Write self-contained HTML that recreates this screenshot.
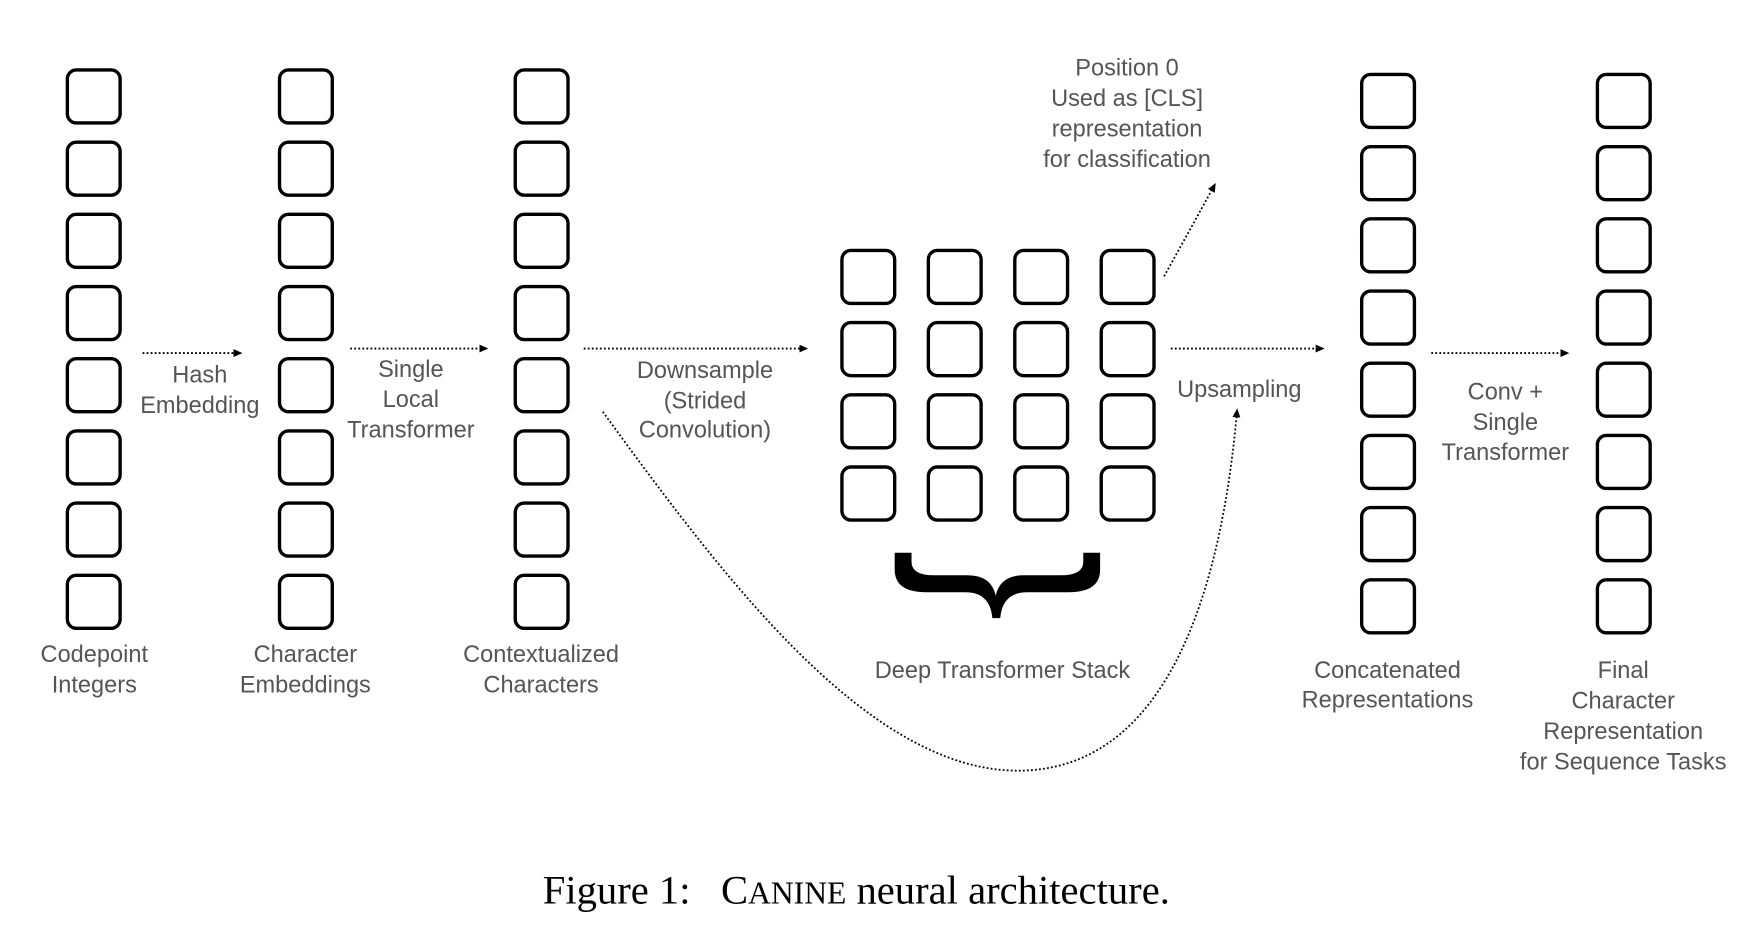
<!DOCTYPE html>
<html><head><meta charset="utf-8"><style>
html,body{margin:0;padding:0;background:#fff;width:1760px;height:934px;overflow:hidden}
svg{display:block}
.b{fill:none;stroke:#000;stroke-width:3}
.t{font-family:"Liberation Sans",sans-serif;font-size:21px;fill:#555;text-anchor:middle}
.d{fill:none;stroke:#000;stroke-width:1.6;stroke-dasharray:1.6 2}
</style></head><body>
<svg width="1760" height="934" viewBox="0 0 1560 828" preserveAspectRatio="none" xmlns="http://www.w3.org/2000/svg">
<defs>
<marker id="a" markerWidth="8" markerHeight="8" refX="6" refY="3.5" orient="auto" markerUnits="userSpaceOnUse"><path d="M0,0 L8,3.5 L0,7 z" fill="#000"/></marker>
<g id="col"><rect class="b" x="0" y="0" width="47" height="47" rx="8"/><rect class="b" x="0" y="64" width="47" height="47" rx="8"/><rect class="b" x="0" y="128" width="47" height="47" rx="8"/><rect class="b" x="0" y="192" width="47" height="47" rx="8"/><rect class="b" x="0" y="256" width="47" height="47" rx="8"/><rect class="b" x="0" y="320" width="47" height="47" rx="8"/><rect class="b" x="0" y="384" width="47" height="47" rx="8"/><rect class="b" x="0" y="448" width="47" height="47" rx="8"/></g>
<g id="g4"><rect class="b" x="0" y="0" width="47" height="47" rx="8"/><rect class="b" x="0" y="64" width="47" height="47" rx="8"/><rect class="b" x="0" y="128" width="47" height="47" rx="8"/><rect class="b" x="0" y="192" width="47" height="47" rx="8"/></g>
</defs>
<g transform="translate(0,0) scale(0.995,1)">
<use href="#col" x="60" y="62"/>
<use href="#col" x="249" y="62"/>
<use href="#col" x="459" y="62"/>
<use href="#col" x="1213" y="66"/>
<use href="#col" x="1423" y="66"/>
<use href="#g4" x="750" y="222"/>
<use href="#g4" x="827" y="222"/>
<use href="#g4" x="904" y="222"/>
<use href="#g4" x="981" y="222"/>
<path d="M797,490 L812,490 L812,498 Q812,510 832,510 L862,510 Q883,510 887,528 Q891,510 912,510 L945,510 Q965,510 965,498 L965,490 L980,490 L980,505 Q980,525 952,525 L915,525 Q893,525 891,548 L884,548 Q882,525 860,525 L825,525 Q797,525 797,505 Z" fill="#000"/>
<line class="d" x1="127" y1="313" x2="214" y2="313" marker-end="url(#a)"/>
<line class="d" x1="312" y1="309" x2="433" y2="309" marker-end="url(#a)"/>
<line class="d" x1="520" y1="309" x2="718" y2="309" marker-end="url(#a)"/>
<line class="d" x1="1043" y1="309" x2="1178" y2="309" marker-end="url(#a)"/>
<line class="d" x1="1275" y1="313" x2="1396" y2="313" marker-end="url(#a)"/>
<line class="d" x1="1037" y1="245" x2="1082" y2="164" marker-end="url(#a)"/>
<path class="d" d="M537,365 C650,520 780,690 915,683 C1050,676 1090,500 1102,364" marker-end="url(#a)"/>
<g class="t">
<text x="178" y="339">Hash</text><text x="178" y="366">Embedding</text>
<text x="366" y="334">Single</text><text x="366" y="361">Local</text><text x="366" y="388">Transformer</text>
<text x="628" y="335">Downsample</text><text x="628" y="362">(Strided</text><text x="628" y="388">Convolution)</text>
<text x="1104" y="352">Upsampling</text>
<text x="1341" y="354">Conv +</text><text x="1341" y="381">Single</text><text x="1341" y="408">Transformer</text>
<text x="1004" y="67">Position 0</text><text x="1004" y="94">Used as [CLS]</text><text x="1004" y="121">representation</text><text x="1004" y="148">for classification</text>
<text x="84" y="587">Codepoint</text><text x="84" y="614">Integers</text>
<text x="272" y="587">Character</text><text x="272" y="614">Embeddings</text>
<text x="482" y="587">Contextualized</text><text x="482" y="614">Characters</text>
<text x="893" y="601">Deep Transformer Stack</text>
<text x="1236" y="601">Concatenated</text><text x="1236" y="627">Representations</text>
<text x="1446" y="601">Final</text><text x="1446" y="628">Character</text><text x="1446" y="655">Representation</text><text x="1446" y="682">for Sequence Tasks</text>
</g>
</g>
<text x="759" y="801" text-anchor="middle" style="font-family:'Liberation Serif',serif;font-size:36px;fill:#000">Figure 1:&#160;&#160;&#160;C<tspan font-size="28">ANINE</tspan> neural architecture.</text>
</svg>
</body></html>
